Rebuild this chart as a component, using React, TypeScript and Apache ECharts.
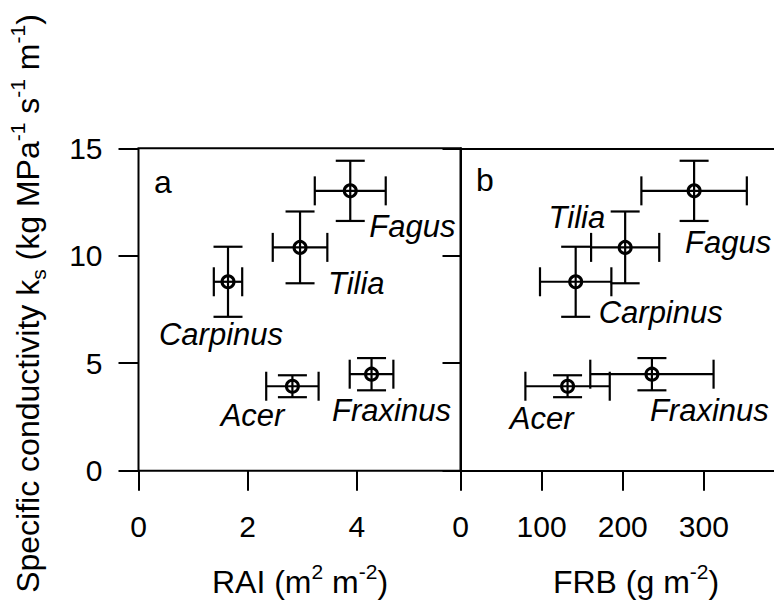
import React, { useEffect, useRef } from "react";
import * as echarts from "echarts";

// Species and their means ± standard errors
const speciesNames = ["Acer", "Carpinus", "Fagus", "Fraxinus", "Tilia"];
const ksMean = [3.93, 8.79, 13.02, 4.49, 10.39];
const ksSE = [0.51, 1.63, 1.4, 0.75, 1.67];
const raiMean = [2.82, 1.64, 3.88, 4.27, 2.96];
const raiSE = [0.48, 0.26, 0.65, 0.4, 0.5];
const frbMean = [132, 142, 288, 236, 203];
const frbSE = [52, 44, 65, 76, 42];

// Tick values
const ksTicks = [0, 5, 10, 15];
const raiTicks = [0, 2, 4];
const frbTicks = [0, 100, 200, 300];

// Species label placement relative to each point (pixels)
type LabelPlace = { dx: number; dy: number; align: "left" | "center" | "right" };
const labelsRAI: LabelPlace[] = [
  { dx: -8, dy: 29, align: "right" },
  { dx: -7, dy: 53, align: "center" },
  { dx: 19, dy: 36, align: "left" },
  { dx: 20, dy: 36, align: "center" },
  { dx: 28, dy: 36, align: "left" },
];
const labelsFRB: LabelPlace[] = [
  { dx: 6, dy: 32, align: "right" },
  { dx: 23, dy: 31, align: "left" },
  { dx: -9, dy: 52, align: "left" },
  { dx: -2, dy: 36, align: "left" },
  { dx: -20, dy: -30, align: "right" },
];

const FONT = "'Liberation Sans', Arial, Helvetica, sans-serif";
const INK = "#000";

function errorBarRenderer(labels: LabelPlace[]) {
  return (params: any, api: any) => {
    const x = api.value(0);
    const y = api.value(1);
    const xe = api.value(2);
    const ye = api.value(3);
    const c = api.coord([x, y]);
    const l = api.coord([x - xe, y]);
    const r = api.coord([x + xe, y]);
    const t = api.coord([x, y + ye]);
    const b = api.coord([x, y - ye]);
    const cap = 14.5;
    const ls = { stroke: INK, lineWidth: 2.2 };
    const lab = labels[params.dataIndex];
    return {
      type: "group",
      children: [
        { type: "line", shape: { x1: l[0], y1: l[1], x2: r[0], y2: r[1] }, style: ls },
        { type: "line", shape: { x1: l[0], y1: l[1] - cap, x2: l[0], y2: l[1] + cap }, style: ls },
        { type: "line", shape: { x1: r[0], y1: r[1] - cap, x2: r[0], y2: r[1] + cap }, style: ls },
        { type: "line", shape: { x1: t[0], y1: t[1], x2: b[0], y2: b[1] }, style: ls },
        { type: "line", shape: { x1: t[0] - cap, y1: t[1], x2: t[0] + cap, y2: t[1] }, style: ls },
        { type: "line", shape: { x1: b[0] - cap, y1: b[1], x2: b[0] + cap, y2: b[1] }, style: ls },
        {
          type: "circle",
          shape: { cx: c[0], cy: c[1], r: 6 },
          style: { fill: "none", stroke: INK, lineWidth: 3 },
        },
        {
          type: "text",
          x: c[0] + lab.dx,
          y: c[1] + lab.dy,
          style: {
            text: speciesNames[params.dataIndex],
            fill: INK,
            fontSize: 31,
            fontStyle: "italic",
            fontFamily: FONT,
            align: lab.align,
            verticalAlign: "middle",
          },
        },
      ],
    };
  };
}

export default function App() {
  const ref = useRef<HTMLDivElement>(null);

  useEffect(() => {
    if (!ref.current) return;
    const chart = echarts.init(ref.current, undefined, { renderer: "svg" });

    const tickLabel = { color: INK, fontSize: 30, fontFamily: FONT };
    const main = { fontSize: 32, lineHeight: 42, fontFamily: FONT, color: INK };
    const sup = { fontSize: 21, lineHeight: 21, fontFamily: FONT, color: INK, verticalAlign: "top" };
    const sub = { fontSize: 21, lineHeight: 21, fontFamily: FONT, color: INK, verticalAlign: "bottom" };
    const spine = { show: true, lineStyle: { color: INK, width: 2 } };

    const gridTop = 148.3;
    const gridHeight = 322.4;

    chart.setOption({
      animation: false,
      backgroundColor: "#fff",
      grid: [
        {
          left: 138.5,
          top: gridTop,
          width: 322,
          height: gridHeight,
          show: true,
          borderColor: INK,
          borderWidth: 2,
          backgroundColor: "transparent",
        },
        {
          // panel b runs off the right edge of the figure
          left: 460.5,
          top: gridTop,
          width: 313.5,
          height: gridHeight,
        },
      ],
      xAxis: [
        {
          type: "value",
          gridIndex: 0,
          min: 0,
          max: 5.9,
          interval: 2,
          axisLine: { show: false },
          splitLine: { show: false },
          axisTick: {
            show: true,
            inside: false,
            length: 20,
            customValues: raiTicks,
            lineStyle: { color: INK, width: 2 },
          },
          axisLabel: { ...tickLabel, margin: 41, customValues: raiTicks },
        },
        {
          type: "value",
          gridIndex: 1,
          min: 0,
          max: 386.5,
          interval: 100,
          axisLine: spine,
          splitLine: { show: false },
          axisTick: {
            show: true,
            inside: false,
            length: 20,
            customValues: frbTicks,
            lineStyle: { color: INK, width: 2 },
          },
          axisLabel: { ...tickLabel, margin: 41, customValues: frbTicks },
        },
        {
          // top spine of panel b
          type: "value",
          gridIndex: 1,
          position: "top",
          min: 0,
          max: 386.5,
          axisLine: spine,
          splitLine: { show: false },
          axisTick: { show: false },
          axisLabel: { show: false },
        },
      ],
      yAxis: [
        {
          type: "value",
          gridIndex: 0,
          min: 0,
          max: 15,
          interval: 5,
          axisLine: { show: false },
          splitLine: { show: false },
          axisTick: {
            show: true,
            inside: false,
            length: 20,
            customValues: ksTicks,
            lineStyle: { color: INK, width: 2 },
          },
          axisLabel: { ...tickLabel, margin: 36, customValues: ksTicks },
        },
        {
          type: "value",
          gridIndex: 1,
          min: 0,
          max: 15,
          interval: 5,
          axisLine: spine,
          splitLine: { show: false },
          axisTick: {
            show: true,
            inside: false,
            length: 18,
            customValues: ksTicks,
            lineStyle: { color: INK, width: 2 },
          },
          axisLabel: { show: false },
        },
      ],
      series: [
        {
          type: "custom",
          xAxisIndex: 0,
          yAxisIndex: 0,
          renderItem: errorBarRenderer(labelsRAI),
          data: speciesNames.map((_, i) => [raiMean[i], ksMean[i], raiSE[i], ksSE[i]]),
          encode: { x: 0, y: 1 },
          clip: false,
          z: 10,
        },
        {
          type: "custom",
          xAxisIndex: 1,
          yAxisIndex: 1,
          renderItem: errorBarRenderer(labelsFRB),
          data: speciesNames.map((_, i) => [frbMean[i], ksMean[i], frbSE[i], ksSE[i]]),
          encode: { x: 0, y: 1 },
          clip: false,
          z: 10,
        },
      ],
      graphic: [
        {
          type: "text",
          left: 154,
          top: 166,
          style: { text: "a", fill: INK, fontSize: 32, fontFamily: FONT },
        },
        {
          type: "text",
          left: 476,
          top: 164,
          style: { text: "b", fill: INK, fontSize: 32, fontFamily: FONT },
        },
        {
          type: "text",
          x: 300,
          y: 582,
          style: {
            text: "{m|RAI (m}{s|2}{m| m}{s|-2}{m|)}",
            rich: { m: main, s: sup },
            align: "center",
            verticalAlign: "middle",
          },
        },
        {
          type: "text",
          x: 636,
          y: 582,
          style: {
            text: "{m|FRB (g m}{s|-2}{m|)}",
            rich: { m: main, s: sup },
            align: "center",
            verticalAlign: "middle",
          },
        },
        {
          type: "text",
          x: 28,
          y: 303.5,
          rotation: Math.PI / 2,
          style: {
            text:
              "{m|Specific conductivity k}{b|s}{m| (kg MPa}{s|-1}{m| s}{s|-1}{m| m}{s|-1}{m|)}",
            rich: { m: main, s: sup, b: sub },
            align: "center",
            verticalAlign: "middle",
          },
        },
      ],
    });

    return () => chart.dispose();
  }, []);

  return (
    <div
      ref={ref}
      style={{ position: "absolute", left: 0, top: 0, width: 774, height: 601 }}
    />
  );
}
